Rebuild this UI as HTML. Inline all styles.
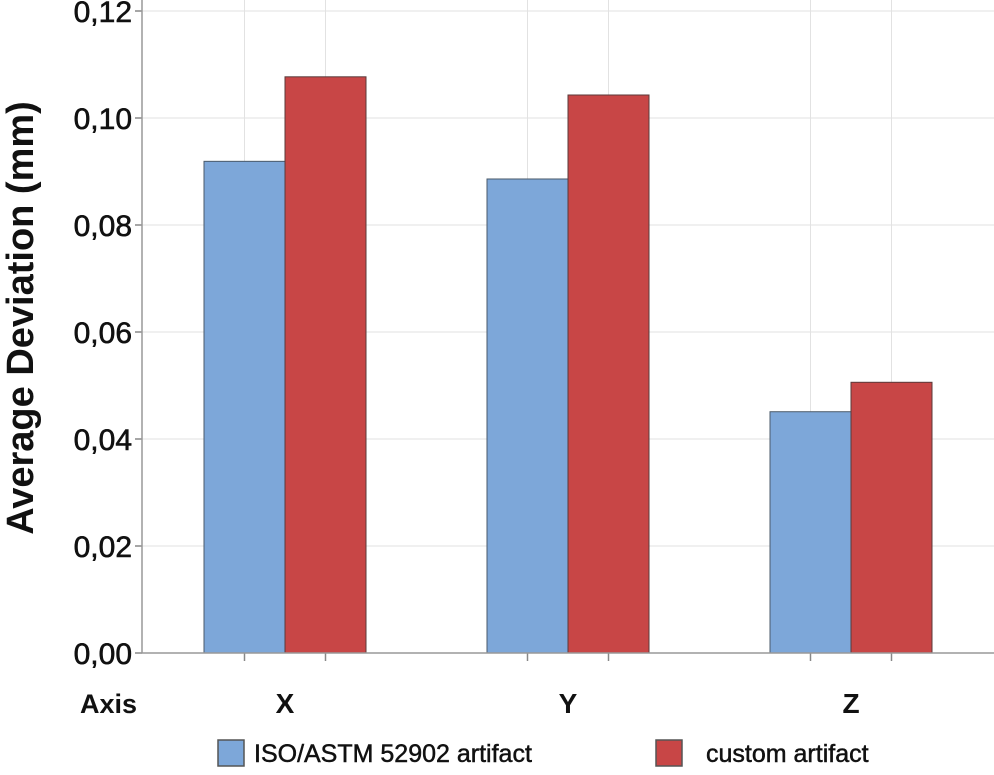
<!DOCTYPE html>
<html><head><meta charset="utf-8"><style>
body{margin:0;background:#fff;width:994px;height:770px;overflow:hidden}
svg text{font-family:"Liberation Sans",sans-serif;fill:#111}
</style></head><body>
<svg id="chart" width="994" height="770"></svg>
<script>
const categories=["X","Y","Z"];
const isoValues=[0.0919,0.0886,0.0451];
const customValues=[0.1077,0.1043,0.0506];
const yTicks=[0,0.02,0.04,0.06,0.08,0.10,0.12];
const yTickLabels=["0,00","0,02","0,04","0,06","0,08","0,10","0,12"];
const NS="http://www.w3.org/2000/svg";
const svg=document.getElementById('chart');
const L=142,R=994,T=0,B=653;
const y=v=>B-v/0.12*642;
const catCenter=i=>285+i*283;
const barW=81;
function mk(tag,attrs,parent){const e=document.createElementNS(NS,tag);for(const k in attrs)e.setAttribute(k,attrs[k]);(parent||svg).appendChild(e);return e;}
yTicks.forEach((t,i)=>{
 const g=mk('line',{x1:L,x2:R,y1:y(t),y2:y(t),stroke:'#e2e2e2','stroke-width':1});
 
 
 const tk=mk('line',{x1:L-7,x2:L,y1:y(t),y2:y(t),stroke:'#888','stroke-width':1.5});
 
 
 const lb=mk('text',{x:L-10,y:y(t)+11,'text-anchor':'end','font-size':30,stroke:'#111','stroke-width':0.6});
 lb.textContent=yTickLabels[i];
 
 
});
categories.forEach((c,i)=>{
 [catCenter(i)-barW/2,catCenter(i)+barW/2].forEach(x=>{
  const g=mk('line',{x1:x,x2:x,y1:T,y2:B,stroke:'#e2e2e2','stroke-width':1});
  
  
  const tk=mk('line',{x1:x,x2:x,y1:B,y2:B+8,stroke:'#888','stroke-width':1.5});
  
  
 });
 const b1=mk('rect',{x:catCenter(i)-barW,y:y(isoValues[i]),width:barW,height:B-y(isoValues[i]),fill:'#7da7d9',stroke:'#4a5a6a','stroke-width':1});
 
 
 const b2=mk('rect',{x:catCenter(i),y:y(customValues[i]),width:barW,height:B-y(customValues[i]),fill:'#c84646',stroke:'#5a3a3a','stroke-width':1});
 
 
 const lb=mk('text',{x:catCenter(i),y:713,'text-anchor':'middle','font-size':28,'font-weight':'bold'});
 lb.textContent=c;
 
 
});
const ax=mk('path',{d:`M${L},${T} V${B} H${R}`,fill:'none',stroke:'#999','stroke-width':1.5});


const axisLbl=mk('text',{x:80,y:713,'font-size':27,'font-weight':'bold'});
axisLbl.textContent='Axis';


const yt=mk('text',{x:0,y:0,'text-anchor':'middle','font-size':38,'font-weight':'bold',transform:'translate(33,318) rotate(-90)'});
yt.textContent='Average Deviation (mm)';


const lg1=mk('rect',{x:218,y:740,width:26,height:26,fill:'#7da7d9',stroke:'#555','stroke-width':1.5});


const lt1=mk('text',{x:254,y:762,'font-size':25,stroke:'#111','stroke-width':0.5});
lt1.textContent='ISO/ASTM 52902 artifact';


const lg2=mk('rect',{x:656,y:740,width:26,height:26,fill:'#c84646',stroke:'#555','stroke-width':1.5});


const lt2=mk('text',{x:706,y:762,'font-size':25,stroke:'#111','stroke-width':0.5});
lt2.textContent='custom artifact';


</script>
</body></html>
